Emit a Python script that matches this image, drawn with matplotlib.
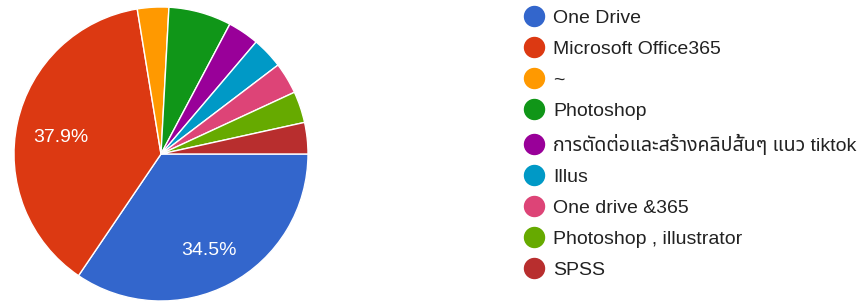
import matplotlib
matplotlib.use("Agg")
import matplotlib.pyplot as plt
from matplotlib import font_manager
from matplotlib.lines import Line2D

labels = ["One Drive", "Microsoft Office365", "~", "Photoshop",
          "การตัดต่อและสร้างคลิปสั้นๆ แนว tiktok", "Illus", "One drive &365",
          "Photoshop , illustrator", "SPSS"]
counts = [10, 11, 1, 2, 1, 1, 1, 1, 1]
colors = ["#3366cc", "#dc3912", "#ff9900", "#109618", "#990099",
          "#0099c6", "#dd4477", "#66aa00", "#b82e2e"]

# pick a font that has Thai glyphs, if one is installed
installed = {f.name for f in font_manager.fontManager.ttflist}
thai = [n for n in ["Noto Sans Thai", "Noto Sans Thai UI", "Loma", "Garuda",
                    "Tlwg Typo", "Norasi", "Kinnari", "Waree", "Sawasdee",
                    "Umpush", "Laksaman", "FreeSans"] if n in installed]
plt.rcParams['font.family'] = ["Liberation Sans"] + thai + ["DejaVu Sans"]

fig = plt.figure(figsize=(8.68, 3.02), dpi=100)
ax = fig.add_axes([14 / 868, 1 / 302, 294 / 868, 294 / 302])

def pct(p):
    return f"{p:.1f}%" if p > 10 else ""

wedges, _, autotexts = ax.pie(counts, colors=colors, startangle=0, counterclock=False,
                              autopct=pct, pctdistance=0.7,
                              wedgeprops=dict(edgecolor="white", linewidth=1),
                              textprops=dict(color="white", fontsize=14))
# nudge the percent labels down a little (text box includes descent)
for t in autotexts:
    x, y = t.get_position()
    t.set_position((x, y - 0.035))
ax.set_xlim(-1, 1)
ax.set_ylim(-1, 1)
ax.set_aspect("equal")

handles = [Line2D([], [], marker="o", linestyle="", markersize=14.4,
                  markerfacecolor=c, markeredgecolor=c) for c in colors]
fig.legend(handles, labels, loc="upper left", bbox_to_anchor=(510.7 / 868, 1.014),
           frameon=False, fontsize=14, labelspacing=0.69, handletextpad=0.48,
           handlelength=1.0, labelcolor="#222222", borderpad=0.2)

fig.savefig("out.png", dpi=100)
